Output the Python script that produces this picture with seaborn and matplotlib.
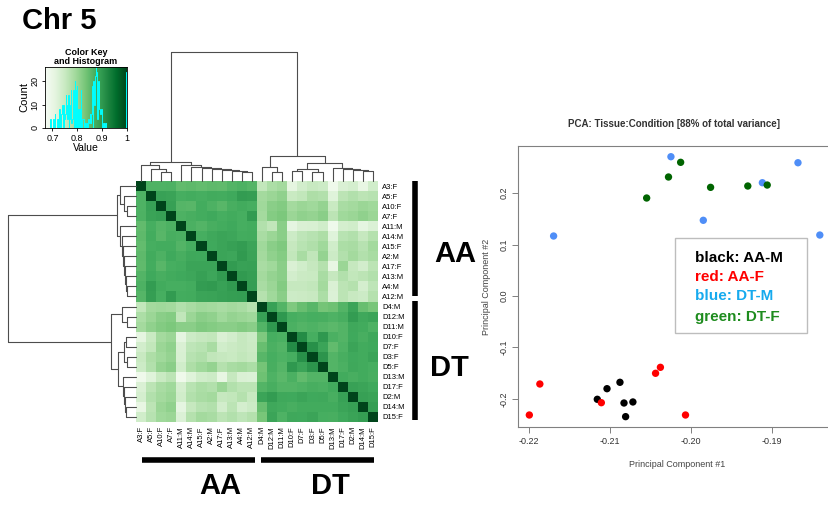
import numpy as np
import pandas as pd
import seaborn as sns
import matplotlib.pyplot as plt
from matplotlib.patches import Rectangle

W, H = 829, 505

# sample order as in the clustered heatmap (top->bottom, left->right)
samples = ["A3:F", "A5:F", "A10:F", "A7:F", "A11:M", "A14:M", "A15:F", "A2:M",
           "A17:F", "A13:M", "A4:M", "A12:M", "D4:M", "D12:M", "D11:M", "D10:F",
           "D7:F", "D3:F", "D5:F", "D13:M", "D17:F", "D2:M", "D14:M", "D15:F"]

# upper triangle of the correlation matrix, row i holds columns i+1 .. 23
upper = [
    [.865, .865, .866, .850, .852, .848, .853, .851, .862, .866, .860,
     .758, .782, .790, .712, .738, .752, .745, .690, .728, .735, .705, .740],
    [.888, .886, .872, .874, .872, .876, .874, .878, .895, .892,
     .790, .800, .810, .750, .758, .780, .775, .720, .765, .775, .765, .770],
    [.890, .860, .858, .874, .866, .858, .870, .876, .872,
     .795, .815, .822, .790, .800, .795, .805, .750, .785, .790, .800, .795],
    [.866, .870, .874, .878, .872, .876, .872, .896,
     .790, .820, .828, .800, .810, .805, .815, .765, .795, .800, .810, .800],
    [.868, .862, .870, .874, .878, .872, .874,
     .775, .760, .815, .710, .728, .730, .740, .690, .735, .740, .710, .725],
    [.872, .880, .885, .882, .874, .876,
     .785, .800, .815, .745, .762, .770, .780, .720, .768, .775, .755, .772],
    [.878, .884, .890, .895, .884,
     .795, .815, .825, .755, .768, .778, .795, .740, .782, .785, .770, .790],
    [.884, .882, .898, .886,
     .790, .810, .820, .758, .785, .760, .805, .745, .775, .790, .775, .785],
    [.896, .888, .890,
     .785, .795, .815, .728, .740, .755, .772, .705, .800, .755, .738, .765],
    [.898, .892,
     .790, .805, .815, .738, .748, .750, .785, .755, .775, .758, .765, .775],
    [.894,
     .785, .800, .822, .755, .755, .758, .790, .728, .765, .772, .735, .762],
    [.772, .795, .815, .745, .748, .752, .782, .725, .765, .752, .745, .772],
    [.888, .862, .825, .845, .858, .835, .840, .862, .885, .845, .832],
    [.900, .872, .868, .872, .870, .865, .870, .895, .880, .885],
    [.868, .862, .865, .860, .855, .862, .880, .875, .865],
    [.915, .872, .900, .868, .862, .878, .870, .880],
    [.910, .885, .850, .865, .885, .875, .878],
    [.905, .862, .870, .878, .875, .885],
    [.862, .868, .880, .875, .872],
    [.875, .870, .875, .870],
    [.888, .885, .878],
    [.890, .886],
    [.892],
]

# dendrogram (left, right, height), same tree for rows and columns
tree = (
    (("A3:F", ("A5:F", ("A10:F", "A7:F", 0.07), 0.09), 0.125),
     ("A11:M", ("A14:M", ("A15:F", ("A2:M", ("A17:F", ("A13:M", ("A4:M", "A12:M", 0.07),
      0.078), 0.083), 0.09), 0.10), 0.11), 0.125),
     0.148),
    (("D4:M", ("D12:M", "D11:M", 0.073), 0.11),
     ((("D10:F", "D7:F", 0.075), ("D3:F", "D5:F", 0.07), 0.09),
      ("D13:M", ("D17:F", ("D2:M", ("D14:M", "D15:F", 0.078), 0.086), 0.096), 0.104),
      0.138),
     0.195),
    1.0)

# PCA scores
aa_m_pc1 = [-0.2116, -0.2104, -0.2088, -0.2083, -0.2072, -0.2081]
aa_m_pc2 = [-0.2006, -0.1800, -0.1676, -0.2078, -0.2058, -0.2343]
aa_f_pc1 = [-0.2200, -0.2187, -0.2111, -0.2044, -0.2038, -0.2007]
aa_f_pc2 = [-0.2311, -0.1709, -0.2072, -0.1501, -0.1385, -0.2311]
dt_m_pc1 = [-0.2170, -0.2025, -0.1868, -0.1912, -0.1985, -0.1841]
dt_m_pc2 = [0.1165, 0.2705, 0.2588, 0.2200, 0.1470, 0.1184]
dt_f_pc1 = [-0.2013, -0.2028, -0.2055, -0.1976, -0.1930, -0.1906]
dt_f_pc2 = [0.2596, 0.2311, 0.1903, 0.2110, 0.2136, 0.2155]

sns.set_style("white")
plt.rcParams["font.family"] = ["Liberation Sans", "DejaVu Sans"]
plt.rcParams["text.color"] = "black"
plt.rcParams["axes.labelcolor"] = "black"
plt.rcParams["xtick.color"] = "black"
plt.rcParams["ytick.color"] = "black"
narrow = ["Liberation Sans Narrow", "Liberation Sans"]

n = len(samples)
mat = np.eye(n)
for i, row in enumerate(upper):
    mat[i, i + 1:] = row
    mat[i + 1:, i] = row
df = pd.DataFrame(mat, index=samples, columns=samples)

fig = plt.figure(figsize=(W / 100, H / 100), dpi=100)


def px_axes(x0, y0, x1, y1):
    return fig.add_axes([x0 / W, 1 - y1 / H, (x1 - x0) / W, (y1 - y0) / H])


def dendro_segments(node):
    if isinstance(node, str):
        return samples.index(node) + 0.5, 0.0, []
    left, right, h = node
    xl, hl, sl = dendro_segments(left)
    xr, hr, sr = dendro_segments(right)
    segs = sl + sr + [((xl, xl), (hl, h)), ((xl, xr), (h, h)), ((xr, xr), (h, hr))]
    return (xl + xr) / 2, h, segs


_, _, segments = dendro_segments(tree)
dcol = "#4d4d4d"

# heatmap
ax_hm = px_axes(136, 181, 378, 422)
sns.heatmap(df, cmap="Greens", vmin=0.67, vmax=1.0, cbar=False, ax=ax_hm,
            xticklabels=True, yticklabels=True)
ax_hm.yaxis.tick_right()
ax_hm.set_yticklabels(samples, rotation=0, family=narrow, fontsize=5.5)
ax_hm.set_xticklabels(samples, rotation=90, family=narrow, fontsize=5.5)
ax_hm.tick_params(length=0, pad=3)
ax_hm.set_xlabel("")
ax_hm.set_ylabel("")

# group bars and labels
bar = dict(color="black", lw=4, clip_on=False, solid_capstyle="butt")
ax_hm.plot([27.7, 27.7], [0.0, 11.45], **bar)
ax_hm.plot([27.7, 27.7], [11.95, 23.8], **bar)
ax_hm.plot([0.55, 11.85], [27.8, 27.8], **bar)
ax_hm.plot([12.35, 23.65], [27.8, 27.8], **bar)
big = dict(fontsize=21, fontweight="bold", ha="center", va="center")
ax_hm.text(31.7, 7.3, "AA", **big)
ax_hm.text(31.1, 18.6, "DT", **big)
ax_hm.text(8.4, 30.4, "AA", **big)
ax_hm.text(19.3, 30.4, "DT", **big)

# column dendrogram
ax_cd = px_axes(136, 52, 378, 181)
for xs, hs in segments:
    ax_cd.plot(xs, hs, color=dcol, lw=0.8, clip_on=False)
ax_cd.set_xlim(0, n)
ax_cd.set_ylim(0, 1.0)
ax_cd.axis("off")

# row dendrogram
ax_rd = px_axes(8, 181, 136, 422)
for xs, hs in segments:
    ax_rd.plot(hs, xs, color=dcol, lw=0.8, clip_on=False)
ax_rd.set_xlim(1.0, 0)
ax_rd.set_ylim(n, 0)
ax_rd.axis("off")

# color key with histogram
ax_key = px_axes(45, 67, 127, 128)
ax_key.imshow(np.linspace(0.67, 1.0, 256)[None, :], extent=[0.67, 1.0, 0, 26],
              aspect="auto", cmap="Greens", vmin=0.67, vmax=1.0)
counts, edges = np.histogram(mat.ravel(), bins=np.linspace(0.67, 1.0, 150))
ax_key.stairs(counts, edges, color="cyan", lw=0.7)
ax_key.set_xlim(0.67, 1.0)
ax_key.set_ylim(0, 26)
ax_key.set_xticks([0.7, 0.8, 0.9, 1.0])
ax_key.set_xticklabels(["0.7", "0.8", "0.9", "1"])
ax_key.set_yticks([0, 10, 20])
ax_key.tick_params(labelsize=6.5, length=2.5, width=0.6, pad=1.5, bottom=True, left=True)
ax_key.tick_params(axis="y", labelrotation=90)
for t in ax_key.get_yticklabels():
    t.set_va("center")
ax_key.set_xlabel("Value", fontsize=7.5, labelpad=0)
ax_key.set_ylabel("Count", fontsize=8, labelpad=1)
ax_key.set_title("Color Key\nand Histogram", fontsize=6.5, fontweight="bold", pad=2, linespacing=1.0)
for s in ax_key.spines.values():
    s.set_linewidth(0.6)
    s.set_color("black")

fig.text(22 / W, 1 - 21 / H, "Chr 5", fontsize=21, fontweight="bold", ha="left", va="center")

# PCA scatter
pca = pd.concat([
    pd.DataFrame({"pc1": aa_m_pc1, "pc2": aa_m_pc2, "group": "AA-M"}),
    pd.DataFrame({"pc1": aa_f_pc1, "pc2": aa_f_pc2, "group": "AA-F"}),
    pd.DataFrame({"pc1": dt_m_pc1, "pc2": dt_m_pc2, "group": "DT-M"}),
    pd.DataFrame({"pc1": dt_f_pc1, "pc2": dt_f_pc2, "group": "DT-F"}),
])
palette = {"AA-M": "black", "AA-F": "#ff0000", "DT-M": "#4f8ef7", "DT-F": "#006400"}

ax_p = px_axes(518, 146, 836, 427)
sns.scatterplot(data=pca, x="pc1", y="pc2", hue="group", palette=palette, s=28,
                linewidth=0, legend=False, ax=ax_p)
ax_p.set_xlim(-0.2214, -0.1821)
ax_p.set_ylim(-0.2544, 0.2913)
ax_p.set_xticks([-0.22, -0.21, -0.20, -0.19])
ax_p.set_xticklabels(["-0.22", "-0.21", "-0.20", "-0.19"])
ax_p.set_yticks([-0.2, -0.1, 0.0, 0.1, 0.2])
ax_p.set_yticklabels(["-0.2", "-0.1", "0.0", "0.1", "0.2"])
ax_p.tick_params(labelsize=6.5, length=4, width=0.7, color="#808080", labelcolor="#333333",
                 bottom=True, left=True, pad=3)
ax_p.tick_params(axis="y", labelrotation=90)
for t in ax_p.get_yticklabels():
    t.set_va("center")
for s in ax_p.spines.values():
    s.set_color("#808080")
    s.set_linewidth(0.8)
ax_p.set_xlabel("Principal Component #1", fontsize=6.5, color="#444444", labelpad=10)
ax_p.set_ylabel("Principal Component #2", fontsize=6.5, color="#444444", labelpad=6)
fig.text(674 / W, 1 - 124 / H, "PCA: Tissue:Condition [88% of total variance]",
         fontsize=7, fontweight="bold", color="#333333", ha="center", va="center")

# colour legend box
fig.add_artist(Rectangle((675 / W, 1 - 333 / H), 132 / W, 95 / H, transform=fig.transFigure,
                         facecolor="white", edgecolor="#bdbdbd", lw=1))
legend_lines = [("black: AA-M", "black", 258), ("red: AA-F", "#ff0000", 277),
                ("blue: DT-M", "#16aaee", 296), ("green: DT-F", "#1e8c1e", 317)]
for txt, col, y in legend_lines:
    fig.text(695 / W, 1 - y / H, txt, fontsize=11, fontweight="bold", color=col,
             ha="left", va="center")

fig.savefig("out.png", dpi=100)
